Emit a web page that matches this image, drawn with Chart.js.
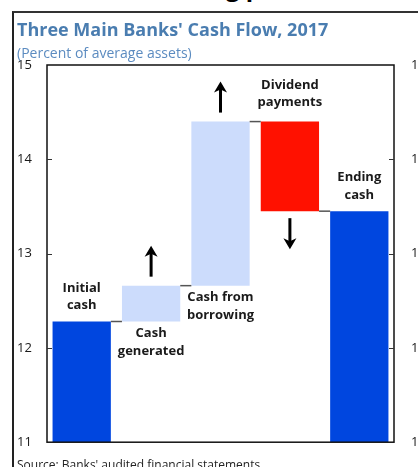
<!DOCTYPE html>
<html>
<head>
<meta charset="utf-8">
<script src="https://cdn.jsdelivr.net/npm/chart.js@4.4.1/dist/chart.umd.min.js"></script>
<style>
  body { margin: 0; background: #fff; overflow: hidden; font-family: 'Open Sans', sans-serif; }
  #wrap { position: absolute; left: 0; top: 0; width: 450px; height: 467px; }
  #frame { position: absolute; left: 12px; top: 11px; width: 420px; height: 470px; border-left: 2px solid #222; border-top: 2px solid #333; }
  #above { position: absolute; left: 226px; top: -30px; font: bold 24px 'Open Sans', sans-serif; color: #000; white-space: nowrap; }
  #title { position: absolute; left: 17px; top: 17px; font: bold 18px 'Open Sans', sans-serif; color: #4a7db0; white-space: nowrap; }
  #subtitle { position: absolute; left: 17px; top: 43px; font: 14px 'Open Sans', sans-serif; color: #5b8bc0; white-space: nowrap; }
  #source { position: absolute; left: 17px; top: 456px; font: 12px 'Open Sans', sans-serif; color: #222; white-space: nowrap; }
</style>
</head>
<body>
<div id="above">g p</div>
<div id="frame"></div>
<div id="wrap"><canvas id="chart"></canvas></div>
<div id="title">Three Main Banks' Cash Flow, 2017</div>
<div id="subtitle">(Percent of average assets)</div>
<div id="source">Source: Banks' audited financial statements.</div>
<script>
// Data (percent of average assets)
const categories = [['Initial', 'cash'], ['Cash', 'generated'], ['Cash from', 'borrowing'], ['Dividend', 'payments'], ['Ending', 'cash']];
const initialCash = 12.28;
const flows = [0.38, 1.74, -0.95];
const endingCash = 13.45;
const yTicks = [11, 12, 13, 14, 15];

const axisMin = yTicks[0], axisMax = yTicks[yTicks.length - 1];

// floating bars for the waterfall
const bars = [[axisMin, initialCash]];
let level = initialCash;
flows.forEach(f => { bars.push([level, level + f]); level += f; });
bars.push([axisMin, endingCash]);

const colors = ['#0046df', '#ccdcfc', '#ccdcfc', '#ff1100', '#0046df'];
const labelSide = ['above', 'below', 'below', 'above', 'above'];
const arrowDir = [0, 1, 1, -1, 0];

const FONT = "'Open Sans', sans-serif";

function drawArrow(ctx, x, y0, y1) {
  const dir = y1 < y0 ? -1 : 1;
  ctx.save();
  ctx.strokeStyle = '#000';
  ctx.fillStyle = '#000';
  ctx.lineWidth = 3;
  ctx.beginPath();
  ctx.moveTo(x, y0);
  ctx.lineTo(x, y1 - dir * 6);
  ctx.stroke();
  ctx.beginPath();
  ctx.moveTo(x, y1);
  ctx.lineTo(x - 6.5, y1 - dir * 11);
  ctx.lineTo(x, y1 - dir * 8);
  ctx.lineTo(x + 6.5, y1 - dir * 11);
  ctx.closePath();
  ctx.fill();
  ctx.restore();
}

const waterfallDeco = {
  id: 'waterfallDeco',
  afterDatasetsDraw(chart) {
    const { ctx, chartArea: a, scales } = chart;
    const meta = chart.getDatasetMeta(0);
    const y = scales.y;

    // connectors
    ctx.save();
    ctx.strokeStyle = '#555';
    ctx.lineWidth = 1.5;
    for (let i = 0; i < meta.data.length - 1; i++) {
      const b = meta.data[i], n = meta.data[i + 1];
      const lv = y.getPixelForValue(bars[i][1]);
      ctx.beginPath();
      ctx.moveTo(b.x + b.width / 2, lv);
      ctx.lineTo(n.x - n.width / 2, lv);
      ctx.stroke();
    }
    ctx.restore();

    // labels + arrows
    ctx.save();
    ctx.font = 'bold 13px ' + FONT;
    ctx.fillStyle = '#1a1a1a';
    ctx.textAlign = 'center';
    ctx.textBaseline = 'middle';
    const lh = 17.5;
    meta.data.forEach((b, i) => {
      const top = Math.min(b.y, b.base), bottom = Math.max(b.y, b.base);
      const lines = categories[i];
      lines.forEach((t, k) => {
        let ty;
        if (labelSide[i] === 'above') ty = top - 16 - (lines.length - 1 - k) * lh - (i === 3 ? 3 : 0);
        else ty = bottom + 12 + k * lh;
        ctx.fillText(t, b.x, ty);
      });
      if (arrowDir[i] > 0) drawArrow(ctx, b.x, top - 9, top - 40);
      if (arrowDir[i] < 0) drawArrow(ctx, b.x, bottom + 7, bottom + 38);
    });
    ctx.restore();

    // plot border and inner tick marks
    ctx.save();
    ctx.strokeStyle = '#111';
    ctx.lineWidth = 1.5;
    ctx.strokeRect(a.left, a.top, a.right - a.left, a.bottom - a.top);
    ctx.lineWidth = 1;
    ctx.strokeStyle = '#333';
    yTicks.slice(1, -1).forEach(v => {
      const py = Math.round(y.getPixelForValue(v)) + 0.5;
      ctx.beginPath();
      ctx.moveTo(a.left, py); ctx.lineTo(a.left + 5, py);
      ctx.moveTo(a.right, py); ctx.lineTo(a.right - 5, py);
      ctx.stroke();
    });
    ctx.restore();
  }
};

const tickOpts = {
  stepSize: 1,
  padding: 15,
  color: '#1a1a1a',
  font: { family: FONT, size: 13 }
};

new Chart(document.getElementById('chart'), {
  type: 'bar',
  data: {
    labels: categories,
    datasets: [{
      data: bars,
      backgroundColor: colors,
      borderWidth: 0,
      barPercentage: 0.84,
      categoryPercentage: 1
    }]
  },
  options: {
    responsive: true,
    maintainAspectRatio: false,
    animation: false,
    layout: { padding: { left: 17, right: 0, top: 65, bottom: 24 } },
    plugins: { legend: { display: false }, tooltip: { enabled: false } },
    scales: {
      x: { display: false },
      y: {
        position: 'left',
        min: axisMin, max: axisMax,
        grid: { display: false, drawTicks: false },
        border: { display: false },
        ticks: { ...tickOpts, crossAlign: 'far' },
        afterFit: s => { s.width = 30; }
      },
      y2: {
        position: 'right',
        min: axisMin, max: axisMax,
        grid: { display: false, drawTicks: false },
        border: { display: false },
        ticks: { ...tickOpts, padding: 17, crossAlign: 'near' },
        afterFit: s => { s.width = 56; }
      }
    }
  },
  plugins: [waterfallDeco]
});
</script>
</body>
</html>
